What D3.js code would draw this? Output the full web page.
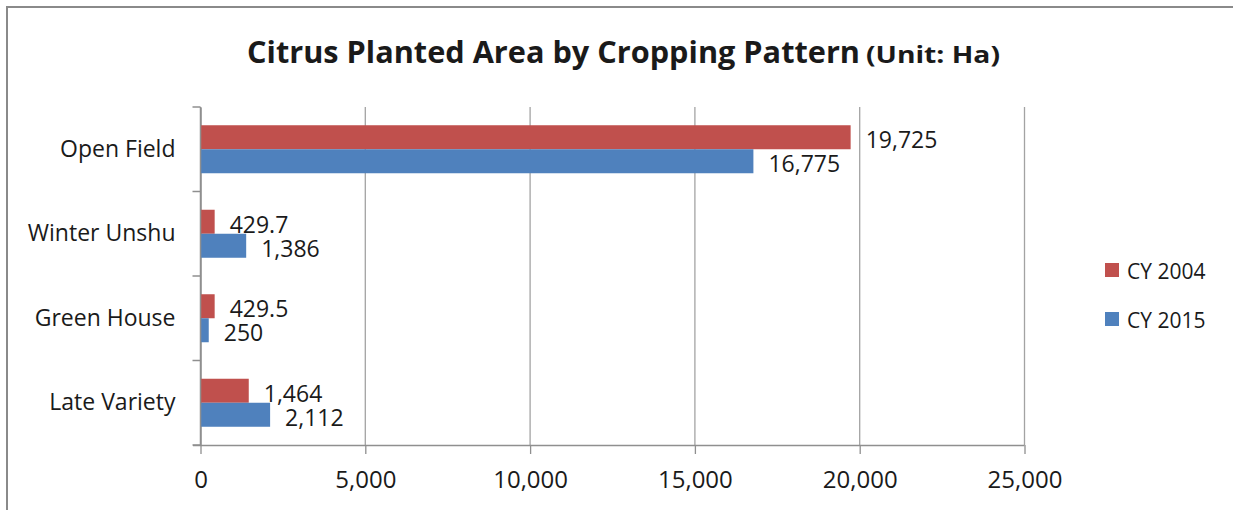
<!DOCTYPE html>
<html>
<head>
<meta charset="utf-8">
<script src="https://cdn.jsdelivr.net/npm/d3@7"></script>
<style>
  html, body { margin: 0; padding: 0; background: #fff; }
  svg { display: block; }
  text { font-family: "Open Sans", sans-serif; fill: #1a1a1a; }
</style>
</head>
<body>
<script>
const categories = ["Open Field", "Winter Unshu", "Green House", "Late Variety"];
const seriesNames = ["CY 2004", "CY 2015"];
const values2004 = [19725, 429.7, 429.5, 1464];
const values2015 = [16775, 1386, 250, 2112];
const xTicks = [0, 5000, 10000, 15000, 20000, 25000];
const titleMain = "Citrus Planted Area by Cropping Pattern";
const titleUnit = "(Unit: Ha)";

const colors = { "CY 2004": "#C0504D", "CY 2015": "#4F81BD" };
const W = 1233, H = 510;

const svg = d3.select("body").append("svg").attr("width", W).attr("height", H);

// border
svg.append("path").attr("d", "M7,510 L7,7 L1233,7")
  .attr("fill", "none").attr("stroke", "#8a8a8a").attr("stroke-width", 2);

// title
svg.append("text").attr("x", 247).attr("y", 63)
  .attr("font-size", 31).attr("font-weight", "bold")
  .attr("textLength", 613).attr("lengthAdjust", "spacingAndGlyphs")
  .text(titleMain);
svg.append("text").attr("x", 866).attr("y", 63)
  .attr("font-size", 24).attr("font-weight", "bold")
  .attr("textLength", 134).attr("lengthAdjust", "spacingAndGlyphs")
  .text(titleUnit);

const x = d3.scaleLinear().domain([0, 25000]).range([200.5, 1024.5]);
const y0 = d3.scaleBand().domain(categories).range([107, 445]).padding(0);
const y1 = d3.scaleBand().domain(seriesNames).range([0, y0.bandwidth()]).paddingInner(0).paddingOuter(0.76);

const rows = categories.map((c, i) => ({ cat: c, vals: [
  { s: "CY 2004", v: values2004[i] },
  { s: "CY 2015", v: values2015[i] }
]}));

// gridlines
svg.append("g").selectAll("line").data(xTicks.filter(t => t > 0)).join("line")
  .attr("x1", d => x(d)).attr("x2", d => x(d))
  .attr("y1", 107).attr("y2", 445)
  .attr("stroke", "#a3a3a3").attr("stroke-width", 1.3);

// x axis
const xAxis = d3.axisBottom(x).tickValues(xTicks).tickFormat(d3.format(",")).tickSizeInner(9).tickSizeOuter(0).tickPadding(17);
const gx = svg.append("g").attr("transform", "translate(0,445)").call(xAxis);
gx.select(".domain").attr("d", `M193,0.5H${x(25000)}`).attr("stroke", "#8f8f8f").attr("stroke-width", 1.5);
gx.selectAll(".tick line").attr("stroke", "#8f8f8f").attr("stroke-width", 1.3);
gx.selectAll(".tick text").attr("font-size", 24).attr("font-family", "Open Sans, sans-serif").attr("fill", "#1a1a1a")
  .attr("dy", "0.71em").attr("text-anchor", "middle");

// y axis
const yAxis = d3.axisLeft(y0).tickSize(0).tickPadding(25);
const gy = svg.append("g").attr("transform", `translate(${x(0)},0)`).call(yAxis);
gy.select(".domain").attr("stroke", "#8f8f8f").attr("stroke-width", 1.5);
gy.selectAll(".tick text").attr("font-size", 23).attr("font-family", "Open Sans, sans-serif").attr("fill", "#1a1a1a");
// category boundary ticks
const bounds = categories.map(c => y0(c)).concat([y0.range()[1]]);
svg.append("g").selectAll("line").data(bounds).join("line")
  .attr("x1", x(0) - 8).attr("x2", x(0))
  .attr("y1", d => d).attr("y2", d => d)
  .attr("stroke", "#8f8f8f").attr("stroke-width", 1.5);

// bars
const fmt = d3.format(",");
const grp = svg.append("g").selectAll("g").data(rows).join("g")
  .attr("transform", d => `translate(0,${y0(d.cat)})`);
grp.selectAll("rect").data(d => d.vals).join("rect")
  .attr("x", x(0)).attr("y", d => y1(d.s))
  .attr("width", d => x(d.v) - x(0)).attr("height", y1.bandwidth())
  .attr("fill", d => colors[d.s]);
grp.selectAll("text").data(d => d.vals).join("text")
  .attr("x", d => x(d.v) + 15).attr("y", d => y1(d.s) + y1.bandwidth() / 2 + 2)
  .attr("dominant-baseline", "central")
  .attr("font-size", 23)
  .text(d => fmt(d.v));

// re-draw y axis line on top of bars
svg.append("line").attr("x1", x(0)).attr("x2", x(0)).attr("y1", 107).attr("y2", 445)
  .attr("stroke", "#8f8f8f").attr("stroke-width", 1.5);

// legend
const lg = svg.append("g").selectAll("g").data(seriesNames).join("g")
  .attr("transform", (d, i) => `translate(1105,${270 + i * 49})`);
lg.append("rect").attr("x", 0).attr("y", -7).attr("width", 14).attr("height", 14)
  .attr("fill", d => colors[d]);
lg.append("text").attr("x", 22).attr("y", 1).attr("dominant-baseline", "central")
  .attr("font-size", 21).text(d => d);
</script>
</body>
</html>
